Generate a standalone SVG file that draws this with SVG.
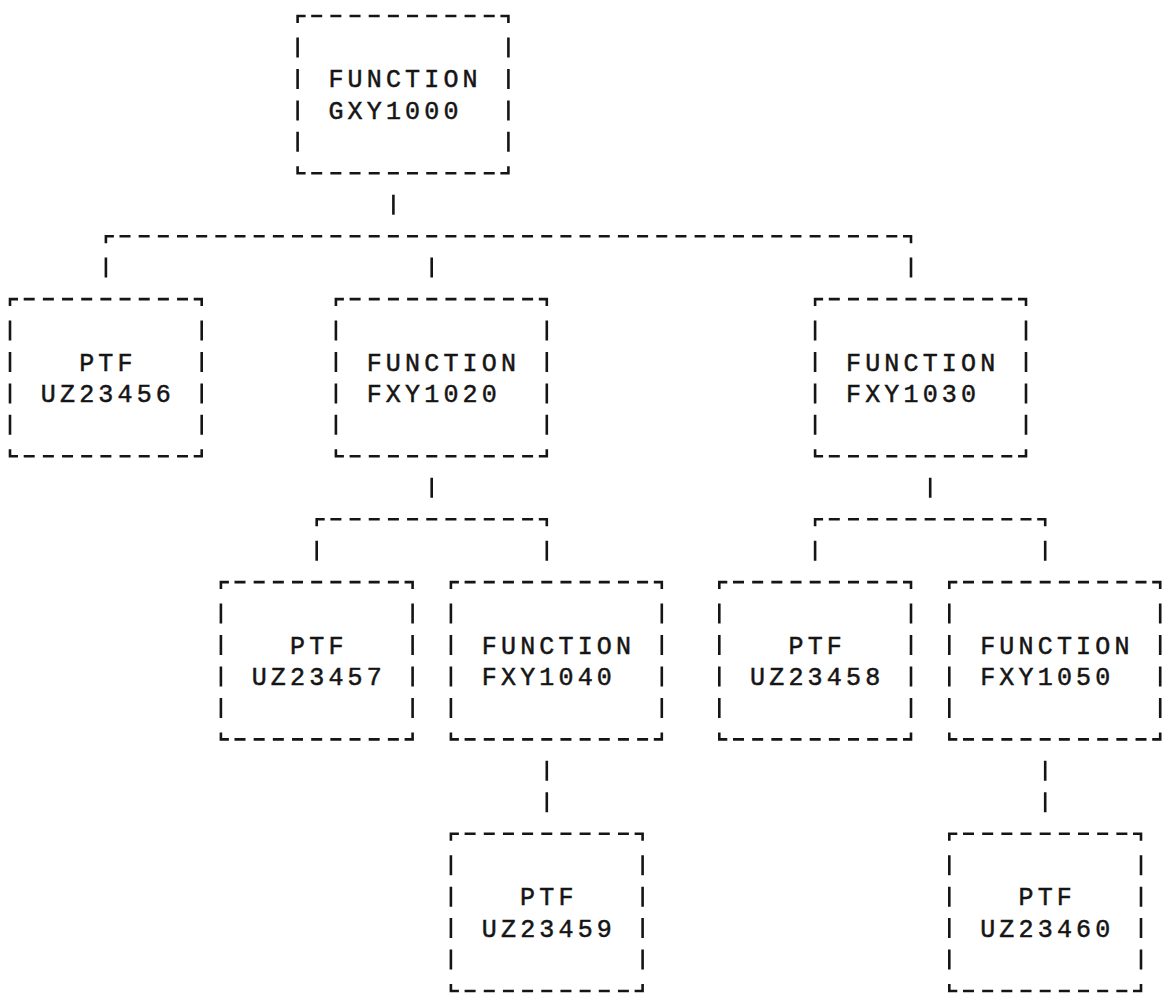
<svg xmlns="http://www.w3.org/2000/svg" width="1165" height="995" viewBox="0 0 1165 995">
  <style>
    .ln { fill: none; stroke: #151515; stroke-width: 2.6; stroke-linecap: butt; }
    .dash { stroke-dasharray: 11 8.17; }
    .bar { stroke-dasharray: 20 11.45; }
    .t { font-family: "Liberation Mono", "DejaVu Sans Mono", monospace; font-size: 25px; letter-spacing: 4.17px; fill: #151515; stroke: #151515; stroke-width: 0.5; }
  </style>
  <rect width="1165" height="995" fill="#ffffff"/>

  <!-- connectors: typewriter-style bars and dashed rails -->
  <g id="connectors">
    <path class="ln bar" d="M393.4,194.7V214.7"/>
    <path class="ln" d="M105.9,243.2V236.2H113.9M903,236.2H911V243.2"/>
    <path class="ln dash" d="M119.5,236.2H897.3"/>
    <path class="ln bar" d="M105.9,257.6V277.6M431.7,257.6V277.6M911,257.6V277.6"/>
    <path class="ln bar" d="M431.7,477.8V497.8M930.2,477.8V497.8"/>
    <path class="ln" d="M316.7,526.2V519.2H324.7M538.8,519.2H546.8V526.2M815.1,526.2V519.2H823.1M1037.2,519.2H1045.2V526.2"/>
    <path class="ln dash" d="M330.4,519.2H533.1M828.8,519.2H1031.5"/>
    <path class="ln bar" d="M316.7,540.7V560.7M546.8,540.7V560.7M815.1,540.7V560.7M1045.2,540.7V560.7"/>
    <path class="ln bar" d="M546.8,760.8V812.3M1045.2,760.8V812.3"/>
  </g>

  <g id="gxy1000">
    <path class="ln" d="M297.6,23V16H305.6M500.4,16H508.4V23M297.6,166.3V173.3H305.6M500.4,173.3H508.4V166.3"/>
    <path class="ln dash" d="M311.2,16H494.8M311.2,173.3H494.8"/>
    <path class="ln bar" d="M297.6,37.5V151.8M508.4,37.5V151.8"/>
    <text class="t" x="328.4" y="87.4">FUNCTION</text>
    <text class="t" x="328.4" y="118.9">GXY1000</text>
  </g>

  <g id="uz23456">
    <path class="ln" d="M10,306.1V299.1H18M193.7,299.1H201.7V306.1M10,449.3V456.3H18M193.7,456.3H201.7V449.3"/>
    <path class="ln dash" d="M23.7,299.1H188M23.7,456.3H188"/>
    <path class="ln bar" d="M10,320.5V434.9M201.7,320.5V434.9"/>
    <text class="t" x="79.2" y="370.5">PTF</text>
    <text class="t" x="40.8" y="401.9">UZ23456</text>
  </g>

  <g id="fxy1020">
    <path class="ln" d="M335.9,306.1V299.1H343.9M538.8,299.1H546.8V306.1M335.9,449.3V456.3H343.9M538.8,456.3H546.8V449.3"/>
    <path class="ln dash" d="M349.6,299.1H533.1M349.6,456.3H533.1"/>
    <path class="ln bar" d="M335.9,320.5V434.9M546.8,320.5V434.9"/>
    <text class="t" x="366.7" y="370.5">FUNCTION</text>
    <text class="t" x="366.7" y="401.9">FXY1020</text>
  </g>

  <g id="fxy1030">
    <path class="ln" d="M815.1,306.1V299.1H823.1M1018,299.1H1026V306.1M815.1,449.3V456.3H823.1M1018,456.3H1026V449.3"/>
    <path class="ln dash" d="M828.8,299.1H1012.3M828.8,456.3H1012.3"/>
    <path class="ln bar" d="M815.1,320.5V434.9M1026,320.5V434.9"/>
    <text class="t" x="846" y="370.5">FUNCTION</text>
    <text class="t" x="846" y="401.9">FXY1030</text>
  </g>

  <g id="uz23457">
    <path class="ln" d="M220.9,589.1V582.1H228.9M404.6,582.1H412.6V589.1M220.9,732.4V739.4H228.9M404.6,739.4H412.6V732.4"/>
    <path class="ln dash" d="M234.5,582.1H398.9M234.5,739.4H398.9"/>
    <path class="ln bar" d="M220.9,603.6V717.9M412.6,603.6V717.9"/>
    <text class="t" x="290.1" y="653.5">PTF</text>
    <text class="t" x="251.7" y="685">UZ23457</text>
  </g>

  <g id="fxy1040">
    <path class="ln" d="M450.9,589.1V582.1H458.9M653.8,582.1H661.8V589.1M450.9,732.4V739.4H458.9M653.8,739.4H661.8V732.4"/>
    <path class="ln dash" d="M464.6,582.1H648.1M464.6,739.4H648.1"/>
    <path class="ln bar" d="M450.9,603.6V717.9M661.8,603.6V717.9"/>
    <text class="t" x="481.8" y="653.5">FUNCTION</text>
    <text class="t" x="481.8" y="685">FXY1040</text>
  </g>

  <g id="uz23458">
    <path class="ln" d="M719.3,589.1V582.1H727.3M903,582.1H911V589.1M719.3,732.4V739.4H727.3M903,739.4H911V732.4"/>
    <path class="ln dash" d="M733,582.1H897.3M733,739.4H897.3"/>
    <path class="ln bar" d="M719.3,603.6V717.9M911,603.6V717.9"/>
    <text class="t" x="788.5" y="653.5">PTF</text>
    <text class="t" x="750.1" y="685">UZ23458</text>
  </g>

  <g id="fxy1050">
    <path class="ln" d="M949.3,589.1V582.1H957.3M1152.2,582.1H1160.2V589.1M949.3,732.4V739.4H957.3M1152.2,739.4H1160.2V732.4"/>
    <path class="ln dash" d="M963,582.1H1146.5M963,739.4H1146.5"/>
    <path class="ln bar" d="M949.3,603.6V717.9M1160.2,603.6V717.9"/>
    <text class="t" x="980.2" y="653.5">FUNCTION</text>
    <text class="t" x="980.2" y="685">FXY1050</text>
  </g>

  <g id="uz23459">
    <path class="ln" d="M450.9,840.7V833.7H458.9M634.6,833.7H642.6V840.7M450.9,984V991H458.9M634.6,991H642.6V984"/>
    <path class="ln dash" d="M464.6,833.7H628.9M464.6,991H628.9"/>
    <path class="ln bar" d="M450.9,855.2V969.5M642.6,855.2V969.5"/>
    <text class="t" x="520.1" y="905.1">PTF</text>
    <text class="t" x="481.8" y="936.6">UZ23459</text>
  </g>

  <g id="uz23460">
    <path class="ln" d="M949.3,840.7V833.7H957.3M1133,833.7H1141V840.7M949.3,984V991H957.3M1133,991H1141V984"/>
    <path class="ln dash" d="M963,833.7H1127.4M963,991H1127.4"/>
    <path class="ln bar" d="M949.3,855.2V969.5M1141,855.2V969.5"/>
    <text class="t" x="1018.5" y="905.1">PTF</text>
    <text class="t" x="980.2" y="936.6">UZ23460</text>
  </g>
</svg>
